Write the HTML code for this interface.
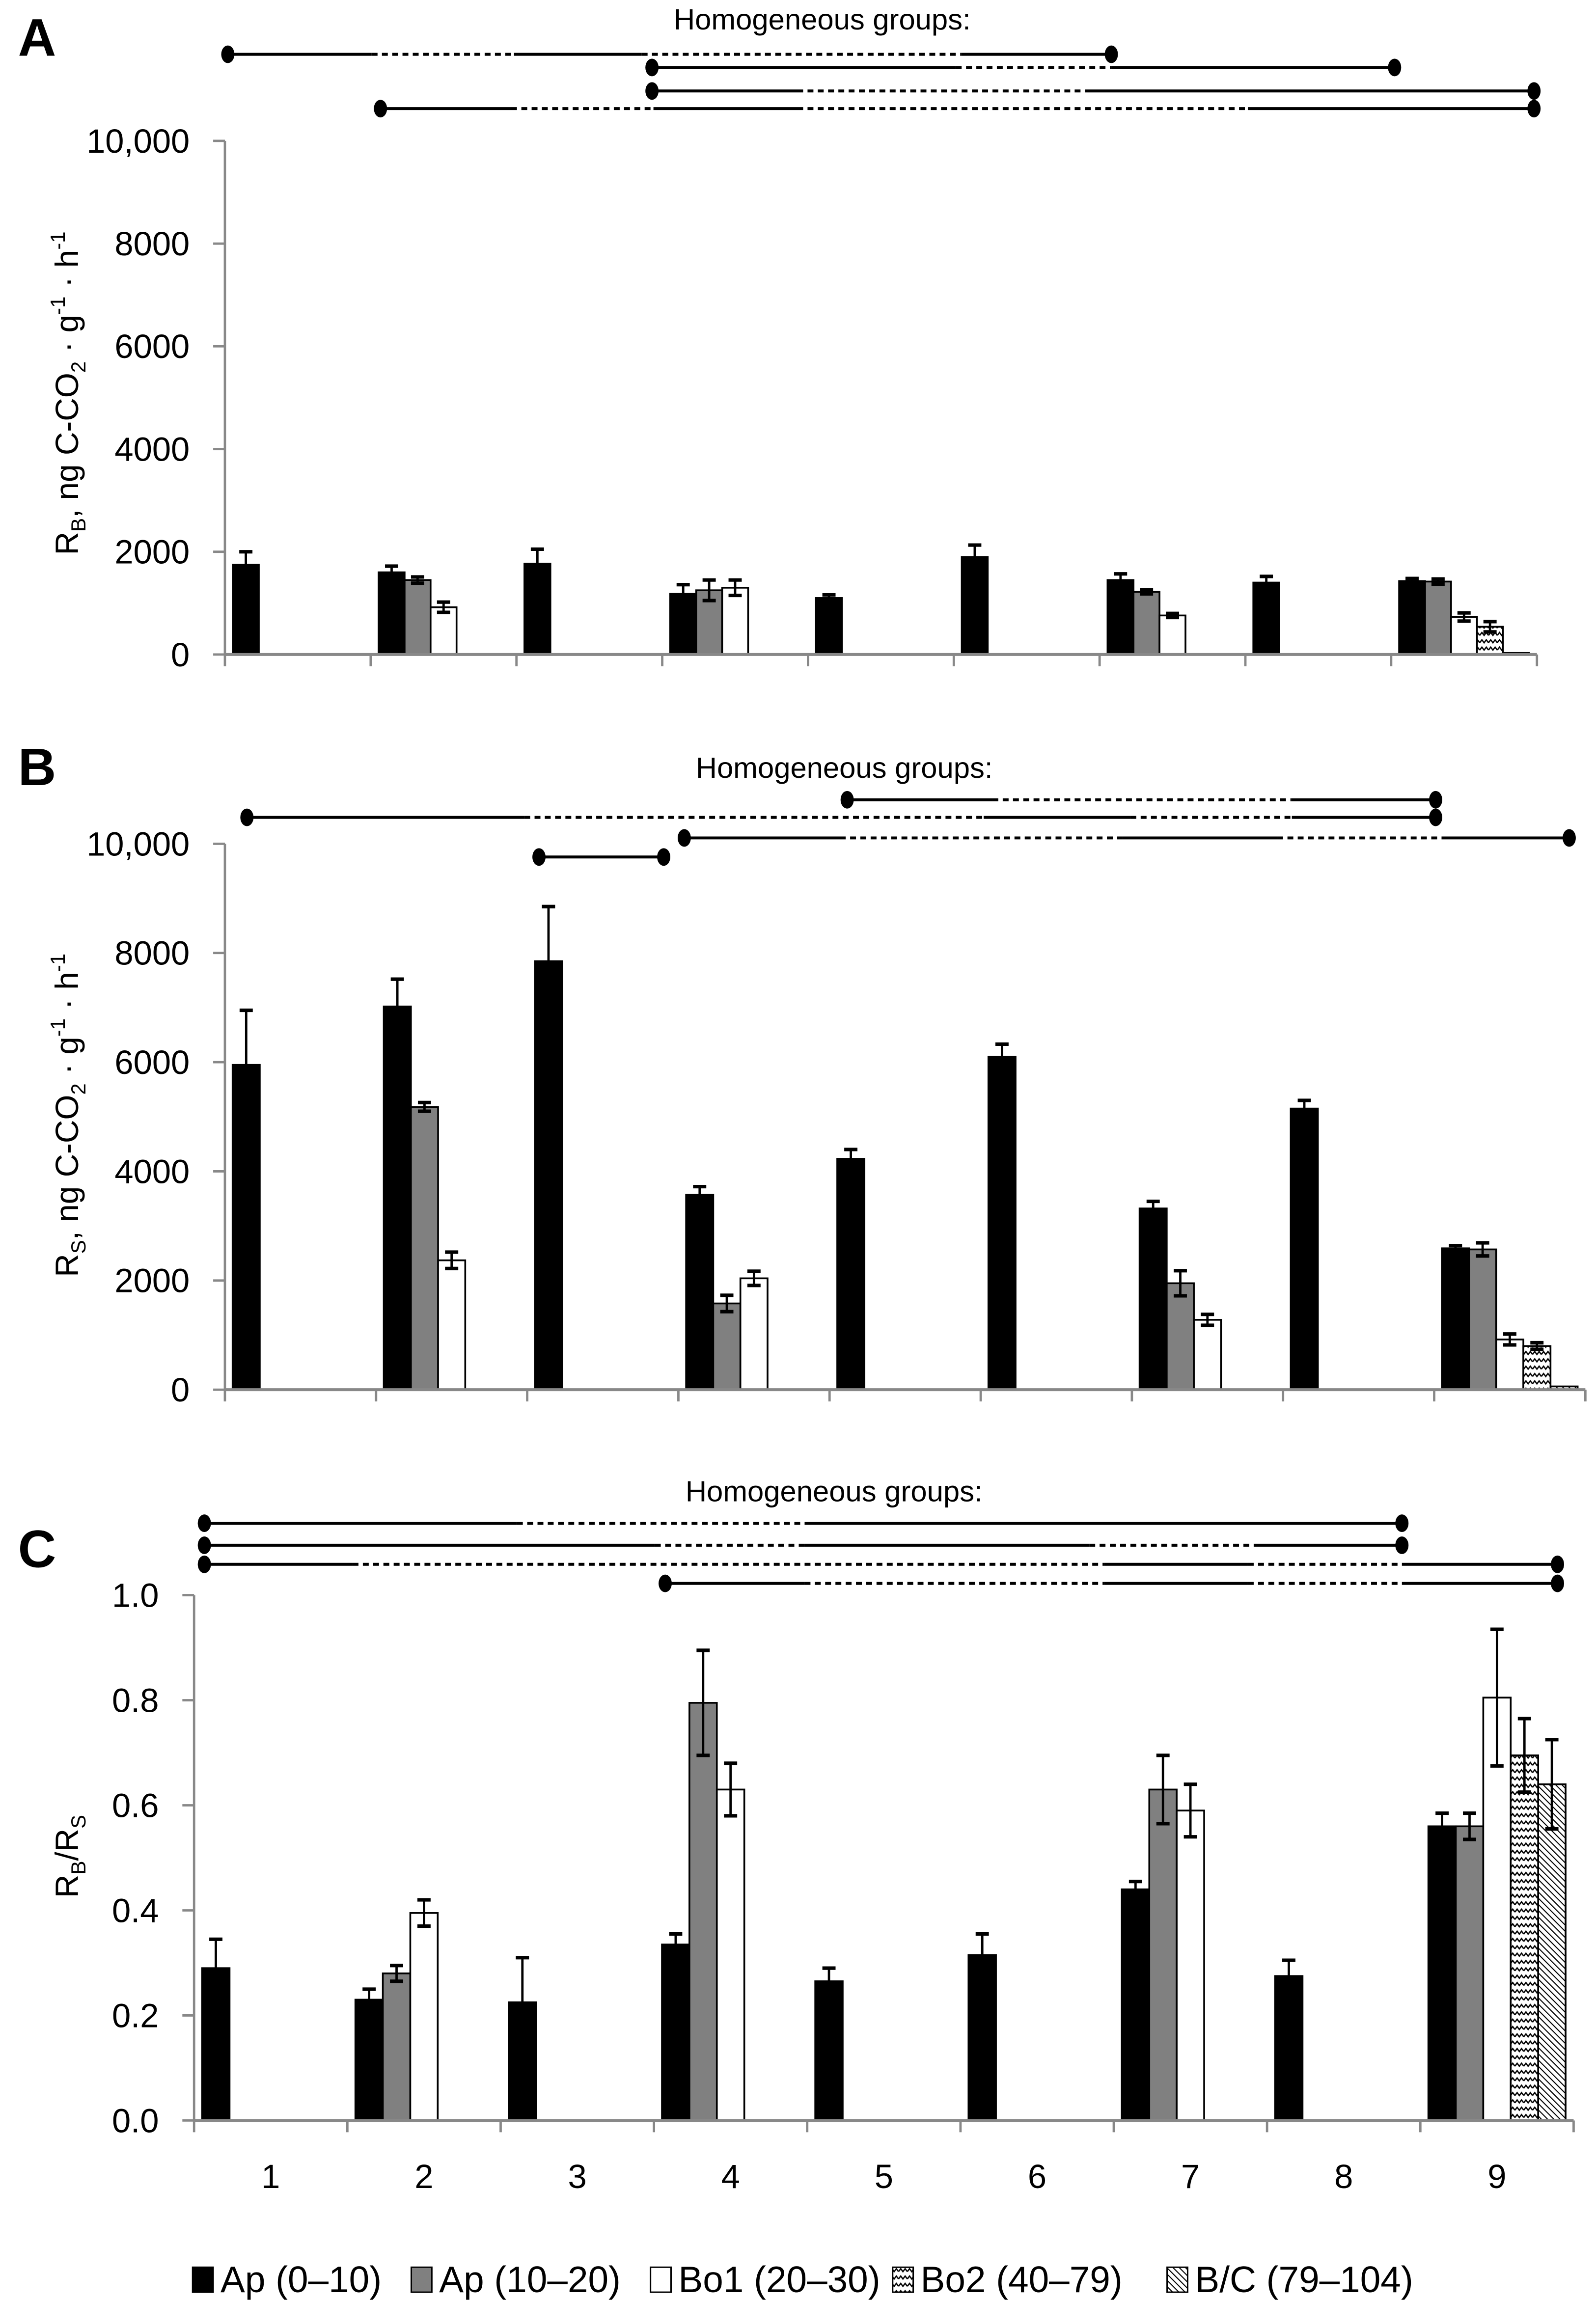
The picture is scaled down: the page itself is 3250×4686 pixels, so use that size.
<!DOCTYPE html>
<html><head><meta charset="utf-8"><title>Respiration chart</title>
<style>
html,body{margin:0;padding:0;background:#fff;}
svg{display:block;font-family:"Liberation Sans",sans-serif;}
</style></head>
<body>
<svg id="chart" width="3250" height="4686" viewBox="0 0 1087 1568" xmlns="http://www.w3.org/2000/svg">
<defs>
<pattern id="zig" width="6" height="5" patternUnits="userSpaceOnUse">
<rect width="6" height="5" fill="#fff"/>
<path d="M0,3 L1.5,1 L3,3 L4.5,1 L6,3" fill="none" stroke="#000" stroke-width="0.9"/>
</pattern>
<pattern id="hatch" width="3" height="3" patternUnits="userSpaceOnUse" patternTransform="rotate(-45)">
<rect width="3" height="3" fill="#fff"/>
<line x1="0" y1="0" x2="0" y2="3" stroke="#000" stroke-width="1.4"/>
</pattern>
</defs>
<g id="root"></g>
</svg>
<script>
// ---- data ----
const categories = [1,2,3,4,5,6,7,8,9];
const seriesNames = ["Ap (0–10)","Ap (10–20)","Bo1 (20–30)","Bo2 (40–79)","B/C (79–104)"];
// Panel A: RB values per series (null = absent)
const rbAp010 = [1750,1600,1770,1180,1100,1900,1450,1400,1430];
const rbAp1020 = [null,1450,null,1250,null,null,1220,null,1420];
const rbBo1 = [null,920,null,1300,null,null,760,null,730];
const rbBo2 = [null,null,null,null,null,null,null,null,540];
const rbBC = [null,null,null,null,null,null,null,null,30];
const rbErrAp010 = [250,120,280,180,60,230,120,120,50];
const rbErrAp1020 = [0,60,0,200,0,0,40,0,50];
const rbErrBo1 = [0,100,0,150,0,0,40,0,80];
const rbErrBo2 = [0,0,0,0,0,0,0,0,100];
const rbErrBC = [0,0,0,0,0,0,0,0,0];
// Panel B: RS
const rsAp010 = [5950,7020,7850,3570,4230,6100,3320,5150,2590];
const rsAp1020 = [null,5180,null,1580,null,null,1950,null,2570];
const rsBo1 = [null,2370,null,2040,null,null,1280,null,920];
const rsBo2 = [null,null,null,null,null,null,null,null,800];
const rsBC = [null,null,null,null,null,null,null,null,60];
const rsErrAp010 = [1000,500,1000,150,170,230,130,150,50];
const rsErrAp1020 = [0,80,0,150,0,0,230,0,120];
const rsErrBo1 = [0,150,0,130,0,0,100,0,100];
const rsErrBo2 = [0,0,0,0,0,0,0,0,60];
const rsErrBC = [0,0,0,0,0,0,0,0,0];
// Panel C: RB/RS
const ratAp010 = [0.29,0.23,0.225,0.335,0.265,0.315,0.44,0.275,0.56];
const ratAp1020 = [null,0.28,null,0.795,null,null,0.63,null,0.56];
const ratBo1 = [null,0.395,null,0.63,null,null,0.59,null,0.805];
const ratBo2 = [null,null,null,null,null,null,null,null,0.695];
const ratBC = [null,null,null,null,null,null,null,null,0.64];
const ratErrAp010 = [0.055,0.02,0.085,0.02,0.025,0.04,0.015,0.03,0.025];
const ratErrAp1020 = [0,0.015,0,0.1,0,0,0.065,0,0.025];
const ratErrBo1 = [0,0.025,0,0.05,0,0,0.05,0,0.13];
const ratErrBo2 = [0,0,0,0,0,0,0,0,0.07];
const ratErrBC = [0,0,0,0,0,0,0,0,0.085];
const ticksA = [0,2000,4000,6000,8000,10000];
const tickLabelsA = ["0","2000","4000","6000","8000","10,000"];
const ticksC = [0,0.2,0.4,0.6,0.8,1.0];
const tickLabelsC = ["0.0","0.2","0.4","0.6","0.8","1.0"];

const NS="http://www.w3.org/2000/svg";
const root=document.getElementById('root');
function mk(tag,attrs,parent){const e=document.createElementNS(NS,tag);for(const k in attrs)e.setAttribute(k,attrs[k]);(parent||root).appendChild(e);return e;}
const fills=["#000","#808080","#fff","url(#zig)","url(#hatch)"];

function panel(cfg){
  const g=mk('g',{});
  
  
  const yScale=v=>cfg.y0-(v-cfg.ymin)/(cfg.ymax-cfg.ymin)*(cfg.y0-cfg.y1);
  const gw=(cfg.x1-cfg.x0)/categories.length;
  const bw=cfg.bw, off=(gw-5*bw)/2;
  const ya=mk('line',{x1:cfg.x0,y1:cfg.y0,x2:cfg.x0,y2:cfg.y1,stroke:'#888','stroke-width':1.6},g);
  
  cfg.ticks.forEach((t,i)=>{
    const y=yScale(t);
    mk('line',{x1:cfg.x0-8,y1:y,x2:cfg.x0,y2:y,stroke:'#888','stroke-width':1.6},g);
    const tx=mk('text',{x:cfg.x0-24,y:y+8,'text-anchor':'end','font-size':23,fill:'#000'},g);
    tx.textContent=cfg.tickLabels[i];
    
  });
  cfg.series.forEach((vals,s)=>{
    vals.forEach((v,i)=>{
      if(v===null)return;
      const x=cfg.x0+i*gw+off+s*bw;
      const y=yScale(v);
      const r=mk('rect',{x:x,y:y,width:bw,height:cfg.y0-y,fill:fills[s],stroke:'#000','stroke-width':1.2},g);
      
      
      const e=cfg.errs[s][i];
      if(e>0){
        const cx=x+bw/2, yt=yScale(v+e), yb=(s===0)?y:yScale(v-e);
        mk('line',{x1:cx,y1:yt,x2:cx,y2:yb,stroke:'#000','stroke-width':1.6},g);
        mk('line',{x1:cx-4.5,y1:yt,x2:cx+4.5,y2:yt,stroke:'#000','stroke-width':2.4},g);
        if(s!==0)mk('line',{x1:cx-4.5,y1:yb,x2:cx+4.5,y2:yb,stroke:'#000','stroke-width':2.4},g);
      }
    });
  });
  const xa=mk('line',{x1:cfg.x0,y1:cfg.y0,x2:cfg.x1,y2:cfg.y0,stroke:'#888','stroke-width':2},g);
  
  for(let i=0;i<=categories.length;i++){
    const x=cfg.x0+i*gw;
    mk('line',{x1:x,y1:cfg.y0,x2:x,y2:cfg.y0+8,stroke:'#888','stroke-width':1.6},g);
  }
  if(cfg.xlabels){
    categories.forEach((c,i)=>{
      const t=mk('text',{x:cfg.x0+(i+0.5)*gw,y:cfg.y0+46,'text-anchor':'middle','font-size':23},g);
      t.textContent=c;
    });
  }
  const L=mk('text',{x:12,y:cfg.letterY,'font-size':36,'font-weight':'bold'},g);
  L.textContent=cfg.letter;
  const T=mk('text',{x:cfg.titleX,y:cfg.titleY,'text-anchor':'middle','font-size':20},g);
  T.textContent='Homogeneous groups:';
  cfg.hg.forEach(line=>{
    const y=line[0], pts=line[1];
    const hl=mk('g',{},g);
    
    
    for(let k=0;k<pts.length-1;k++){
      const a={x1:pts[k],y1:y,x2:pts[k+1],y2:y,stroke:'#000','stroke-width':2};
      if(k%2===1)a['stroke-dasharray']='4 3';
      mk('line',a,hl);
    }
    mk('ellipse',{cx:pts[0],cy:y,rx:4.5,ry:6,fill:'#000'},hl);
    mk('ellipse',{cx:pts[pts.length-1],cy:y,rx:4.5,ry:6,fill:'#000'},hl);
  });
  const yt=mk('text',{transform:`translate(${cfg.ytX},${cfg.ytY}) rotate(-90)`,'text-anchor':'middle','font-size':22},g);
  
  yt.innerHTML=cfg.ytitle;
}

const yt1='R<tspan font-size="14" dy="5">B</tspan><tspan dy="-5">, ng C-CO</tspan><tspan font-size="14" dy="5">2</tspan><tspan dy="-5"> · g</tspan><tspan font-size="14" dy="-9">-1</tspan><tspan dy="9"> · h</tspan><tspan font-size="14" dy="-9">-1</tspan>';
const yt2=yt1.replace('>B<','>S<');
const yt3='R<tspan font-size="14" dy="5">B</tspan><tspan dy="-5">/R</tspan><tspan font-size="14" dy="5">S</tspan>';

panel({name:'panel-a-rb',key:'a',letter:'A',letterY:38,titleX:560,titleY:20,x0:153,x1:1047,y0:446,y1:96,ymin:0,ymax:10000,bw:17.7,
  ticks:ticksA,tickLabels:tickLabelsA,
  series:[rbAp010,rbAp1020,rbBo1,rbBo2,rbBC],errs:[rbErrAp010,rbErrAp1020,rbErrBo1,rbErrBo2,rbErrBC],
  hg:[[37,[155,253,350,437,655,757]],[46,[444,651,757,950]],[62,[444,543,741,1045]],[74,[259,348,445,543,850,1045]]],
  ytX:53,ytY:268,ytitle:yt1});
panel({name:'panel-b-rs',key:'b',letter:'B',letterY:535,titleX:575,titleY:530,x0:153,x1:1080,y0:947,y1:575,ymin:0,ymax:10000,bw:18.5,
  ticks:ticksA,tickLabels:tickLabelsA,
  series:[rsAp010,rsAp1020,rsBo1,rsBo2,rsBC],errs:[rsErrAp010,rsErrAp1020,rsErrBo1,rsErrBo2,rsErrBC],
  hg:[[545,[577,676,880,978]],[557,[168,357,670,770,880,978]],[571,[466,572,765,870,983,1069]],[584,[367,452]]],
  ytX:53,ytY:760,ytitle:yt2});
panel({name:'panel-c-ratio',key:'c',letter:'C',letterY:1068,titleX:568,titleY:1023,x0:132,x1:1072,y0:1445,y1:1087,ymin:0,ymax:1,bw:18.7,
  ticks:ticksC,tickLabels:tickLabelsC,xlabels:true,
  series:[ratAp010,ratAp1020,ratBo1,ratBo2,ratBC],errs:[ratErrAp010,ratErrAp1020,ratErrBo1,ratErrBo2,ratErrBC],
  hg:[[1038,[139,352,548,955]],[1053,[139,446,548,742,855,955]],[1066,[139,240,752,850,955,1061]],[1079,[453,548,752,850,955,1061]]],
  ytX:53,ytY:1265,ytitle:yt3});

const legX=[131,280,443,608,795];
const lg=mk('g',{});


seriesNames.forEach((n,i)=>{
  const e=mk('g',{},lg);
  
  
  mk('rect',{x:legX[i],y:1545,width:14,height:17,fill:fills[i],stroke:'#000','stroke-width':1},e);
  const t=mk('text',{x:legX[i]+19,y:1562,'font-size':25},e);
  t.textContent=n;
});
</script>
</body></html>
